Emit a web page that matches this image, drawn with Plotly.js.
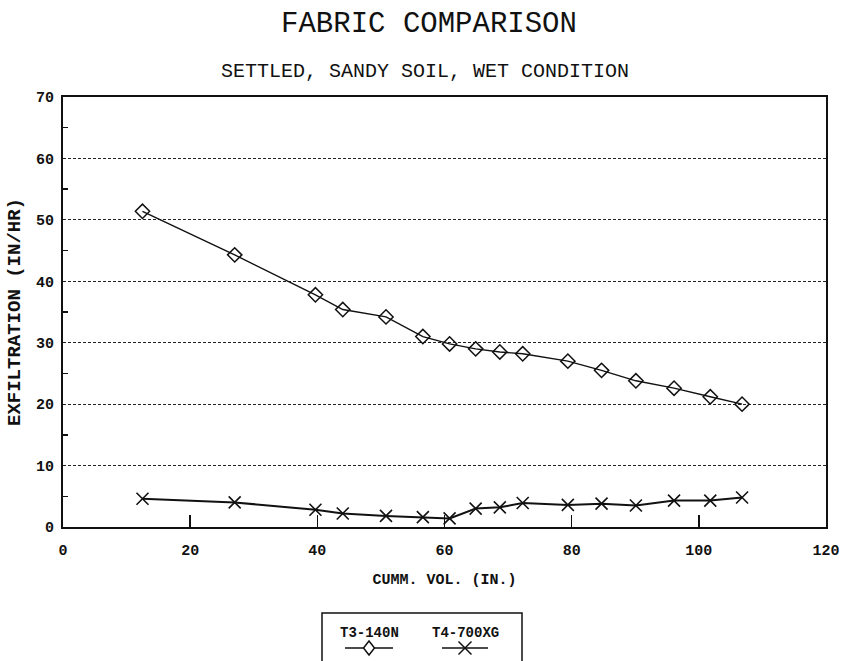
<!DOCTYPE html>
<html>
<head>
<meta charset="utf-8">
<script src="https://cdn.plot.ly/plotly-3.0.1.min.js"></script>
<style>
  html, body { margin: 0; padding: 0; background: #fff; }
  #chart { width: 850px; height: 661px; }
</style>
</head>
<body>
<div id="chart"></div>
<script>
// Cumulative volume (in.) at each reading, shared by both fabrics
const cummVol = [12.5, 27.0, 39.7, 44.0, 50.8, 56.6, 60.8, 64.9, 68.7, 72.3, 79.4, 84.7, 90.1, 96.1, 101.8, 106.8];
// Exfiltration rate (in/hr)
const exfilT3 = [51.4, 44.3, 37.8, 35.4, 34.2, 31.0, 29.8, 29.0, 28.5, 28.2, 27.0, 25.5, 23.8, 22.6, 21.2, 20.0];
const exfilT4 = [4.6, 4.0, 2.8, 2.2, 1.8, 1.6, 1.4, 3.0, 3.2, 3.9, 3.6, 3.8, 3.5, 4.3, 4.3, 4.8];
const seriesNames = ['T3-140N', 'T4-700XG'];
const xTicks = [0, 20, 40, 60, 80, 100, 120];
const yTicks = [0, 10, 20, 30, 40, 50, 60, 70];

const W = 850, H = 661;
const M = { l: 63, r: 24, t: 97, b: 134 };
const plotW = W - M.l - M.r, plotH = H - M.t - M.b;
// page pixel -> paper coordinates, for the title block and the legend box
const px = v => (v - M.l) / plotW;
const py = v => (H - M.b - v) / plotH;

const ink = '#111';
const mono = 'Liberation Mono, DejaVu Sans Mono, monospace';
const tickFont = { family: mono, size: 15, color: ink, weight: 'bold' };

const minorY = yTicks.slice(0, -1).map((v, i) => (v + yTicks[i + 1]) / 2);

const traces = [
  {
    x: cummVol, y: exfilT3, name: seriesNames[0], type: 'scatter', mode: 'lines+markers',
    line: { color: ink, width: 1.4 },
    marker: { symbol: 'diamond-open', size: 11, color: ink, line: { color: ink, width: 1.5 } }
  },
  {
    x: cummVol, y: exfilT4, name: seriesNames[1], type: 'scatter', mode: 'lines+markers',
    line: { color: ink, width: 2 },
    marker: { symbol: 'x-thin-open', size: 12, color: ink, line: { color: ink, width: 1.6 } }
  }
];

// Legend drawn as a box with the label above each line sample
const legendItems = [
  { label: seriesNames[0], cx: 369, x0: 345, x1: 393, mark: 'diamond' },
  { label: seriesNames[1], cx: 465, x0: 442, x1: 488, mark: 'x' }
];
const shapes = [
  { type: 'rect', xref: 'paper', yref: 'paper', x0: px(322), x1: px(522), y0: py(613), y1: py(700),
    line: { color: ink, width: 1.5 }, fillcolor: 'rgba(0,0,0,0)' }
];
const annotations = [
  { text: 'SETTLED, SANDY SOIL, WET CONDITION', xref: 'paper', yref: 'paper',
    x: px(425), y: py(71), xanchor: 'center', yanchor: 'middle', showarrow: false,
    font: { family: mono, size: 20, color: ink } }
];
const sampleY = 648;
legendItems.forEach(it => {
  annotations.push({ text: it.label, xref: 'paper', yref: 'paper', x: px(it.cx), y: py(633),
    xanchor: 'center', yanchor: 'middle', showarrow: false,
    font: { family: mono, size: 14, color: ink, weight: 'bold' } });
  shapes.push({ type: 'line', xref: 'paper', yref: 'paper', x0: px(it.x0), x1: px(it.x1),
    y0: py(sampleY), y1: py(sampleY), line: { color: ink, width: 1.5 } });
  if (it.mark === 'diamond') {
    const a = 5.5, b = 7;
    shapes.push({ type: 'path', xref: 'paper', yref: 'paper',
      path: `M${px(it.cx)},${py(sampleY - b)} L${px(it.cx + a)},${py(sampleY)} L${px(it.cx)},${py(sampleY + b)} L${px(it.cx - a)},${py(sampleY)} Z`,
      line: { color: ink, width: 1.5 }, fillcolor: '#fff' });
  } else {
    const a = 6.5;
    shapes.push({ type: 'line', xref: 'paper', yref: 'paper', x0: px(it.cx - a), x1: px(it.cx + a),
      y0: py(sampleY - a), y1: py(sampleY + a), line: { color: ink, width: 1.5 } });
    shapes.push({ type: 'line', xref: 'paper', yref: 'paper', x0: px(it.cx - a), x1: px(it.cx + a),
      y0: py(sampleY + a), y1: py(sampleY - a), line: { color: ink, width: 1.5 } });
  }
});

const layout = {
  width: W, height: H,
  margin: M,
  paper_bgcolor: '#fff', plot_bgcolor: '#fff',
  showlegend: false,
  title: {
    text: 'FABRIC COMPARISON',
    font: { family: mono, size: 29, color: ink },
    xref: 'paper', x: px(429), xanchor: 'center',
    yref: 'container', y: 1 - 22 / H, yanchor: 'middle'
  },
  xaxis: {
    range: [0, 120], tickmode: 'array', tickvals: xTicks, ticktext: xTicks.map(String),
    ticks: 'inside', ticklen: 12, tickwidth: 1.5, tickcolor: ink,
    showline: true, linewidth: 2, linecolor: ink, mirror: true,
    showgrid: false, zeroline: false,
    tickfont: tickFont, ticklabelstandoff: 8,
    title: { text: 'CUMM. VOL. (IN.)', font: { family: mono, size: 15, color: ink, weight: 'bold' }, standoff: 14 }
  },
  yaxis: {
    range: [0, 70], tickmode: 'array', tickvals: yTicks, ticktext: yTicks.map(String),
    ticks: '', showline: true, linewidth: 2, linecolor: ink, mirror: true,
    showgrid: true, gridcolor: '#222', gridwidth: 1, griddash: '3px,2px',
    zeroline: false,
    minor: { tickmode: 'array', tickvals: minorY, ticks: 'inside', ticklen: 5, tickwidth: 1.5, tickcolor: ink, showgrid: false },
    tickfont: tickFont, ticklabelstandoff: 4,
    title: { text: 'EXFILTRATION (IN/HR)', font: { family: mono, size: 19, color: ink, weight: 'bold' }, standoff: 10 }
  },
  shapes: shapes,
  annotations: annotations
};

Plotly.newPlot('chart', traces, layout, { staticPlot: true, displayModeBar: false });
</script>
</body>
</html>
